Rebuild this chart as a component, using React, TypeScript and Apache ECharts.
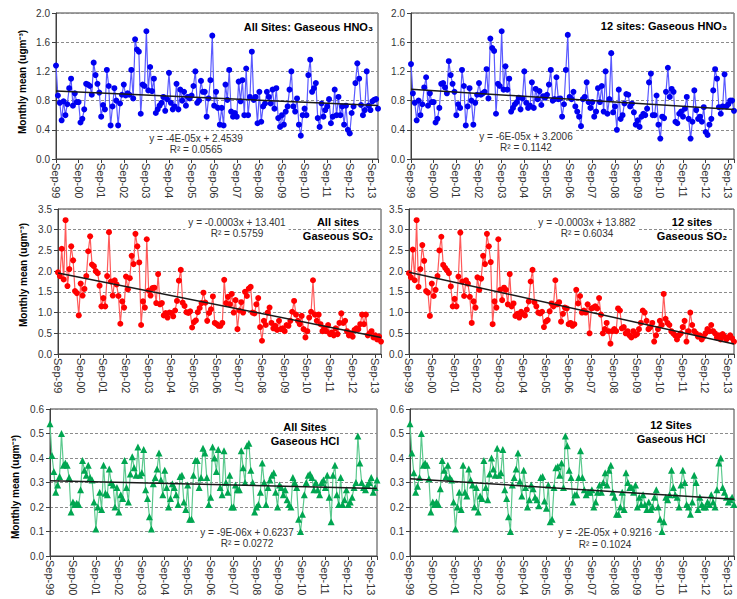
import React, { useEffect, useRef } from "react";
import * as echarts from "echarts";

// Year tick labels along every x axis (one tick per 12 months, starting Sep-99)
const yearTicks = [
  "Sep-99", "Sep-00", "Sep-01", "Sep-02", "Sep-03", "Sep-04", "Sep-05", "Sep-06",
  "Sep-07", "Sep-08", "Sep-09", "Sep-10", "Sep-11", "Sep-12", "Sep-13",
];

// Monthly means, Sep-99 .. Dec-13 (172 months)
const hno3All = [
  1.28, 0.87, 0.77, 0.53, 0.79, 0.60, 0.75, 0.97, 1.10, 0.73, 0.90, 0.78,
  0.78, 0.50, 0.55, 0.68, 1.03, 1.02, 1.00, 0.88, 1.32, 1.15, 1.03, 0.91,
  0.58, 0.74, 0.68, 1.22, 1.00, 0.46, 0.72, 0.97, 0.80, 0.46, 0.76, 0.88,
  1.02, 0.87, 0.90, 0.88, 1.22, 0.83, 1.64, 1.50, 1.47, 0.62, 1.02, 1.00,
  1.75, 0.94, 1.26, 0.93, 1.10, 0.63, 0.68, 0.73, 0.77, 0.85, 0.66, 0.82,
  1.18, 0.77, 0.68, 0.72, 1.03, 0.68, 0.95, 0.80, 0.92, 0.73, 0.85, 0.83,
  0.87, 1.00, 1.20, 0.77, 0.80, 1.07, 0.92, 0.92, 0.58, 0.83, 1.08, 1.69,
  0.73, 0.92, 0.70, 0.47, 0.70, 0.46, 1.02,
  0.81, 1.22, 0.65, 0.58, 0.63, 0.58, 1.06, 0.79, 1.08, 0.60,
  1.24, 0.60, 0.85, 1.47, 0.81, 0.85, 0.49, 0.92, 0.51, 0.72,
  0.76, 0.92, 0.85, 0.76, 0.95, 0.69, 0.97, 0.56, 0.44, 0.60,
  0.47, 0.65, 0.72, 0.95, 1.20, 0.72, 0.65, 0.83, 0.47, 0.32,
  0.60, 0.69, 0.60, 1.15, 1.36, 0.92, 0.97, 1.04, 0.56, 0.44,
  0.76, 0.58, 0.67, 0.72, 0.82, 0.49, 0.58, 0.95, 0.60, 0.85,
  0.60, 0.72, 0.47, 0.73, 0.40, 0.35, 0.63, 0.72, 1.04, 1.31,
  1.10, 0.74, 0.60, 0.67, 1.20, 0.73, 0.67, 0.79, 0.81, 0.82,
  0.69,
];

const hno3Twelve = [
  1.30, 0.90, 0.77, 0.53, 0.80, 0.60, 0.75, 0.98, 1.12, 0.73, 0.90, 0.78,
  0.78, 0.50, 0.55, 0.70, 1.03, 1.04, 0.98, 0.90, 1.34, 1.15, 1.03, 0.92,
  0.60, 0.75, 0.70, 1.22, 1.00, 0.46, 0.72, 0.97, 0.80, 0.47, 0.77, 0.88,
  1.04, 0.88, 0.90, 0.92, 1.23, 0.83, 1.65, 1.52, 1.48, 0.62, 1.03, 1.00,
  1.75, 0.95, 1.27, 0.95, 1.10, 0.65, 0.70, 0.75, 0.78, 0.84, 0.68, 0.83,
  1.20, 0.77, 0.70, 0.73, 1.05, 0.70, 0.96, 0.82, 0.93, 0.74, 0.86, 0.84,
  0.88, 1.02, 1.22, 0.80, 0.82, 1.12, 0.82, 0.83, 0.58, 0.75, 1.22, 1.70,
  0.85, 0.82, 0.92, 0.72, 0.65, 0.58, 0.45, 0.82, 0.85, 1.05, 0.78, 0.70,
  0.78, 0.58, 0.65, 0.97, 0.78, 1.00, 0.65, 1.20, 0.62, 0.82, 1.45, 0.64,
  0.72, 0.40, 0.95, 0.55, 0.60, 0.76, 0.89, 0.88, 0.72, 0.76, 0.64, 0.47,
  0.53, 0.44, 0.58, 0.62, 0.60, 0.69, 1.05, 1.17, 0.60, 0.60, 0.87, 0.47,
  0.28, 0.58, 0.56, 0.92, 1.25, 0.85, 0.96, 0.92, 0.51, 0.49, 0.62, 0.65,
  0.58, 0.69, 0.85, 0.55, 0.28, 0.51, 0.94, 0.67, 0.55, 0.58, 0.51, 0.71,
  0.37, 0.33, 0.47, 0.55, 0.94, 1.23, 1.10, 0.71, 0.62, 0.72, 1.16, 0.72,
  0.75, 0.80, 0.80, 0.66,
];

const so2All = [
  1.97, 1.88, 2.54, 1.80, 3.23, 1.64, 2.05, 2.60, 2.26, 1.52, 1.47, 0.93,
  1.70, 1.41, 1.57, 1.88, 2.48, 2.84, 2.16, 2.12, 2.00, 1.95, 1.65, 1.15,
  1.35, 1.15, 1.88, 2.94, 1.75, 1.41, 1.78, 1.68, 1.40, 0.73, 1.27, 1.12,
  1.87, 1.56, 1.83, 2.37, 2.17, 2.90, 2.60, 2.21, 0.70, 1.27, 1.12, 2.77,
  1.53, 1.41, 1.59, 1.60, 1.23, 1.93, 1.20, 1.23, 0.93, 0.99, 0.88, 1.00,
  0.99, 0.91, 1.05, 1.28, 1.77, 2.03, 1.24, 1.16, 1.01, 0.99, 1.03, 0.64,
  0.77, 0.81, 1.01, 1.11, 1.23, 1.48, 1.24, 0.80, 0.99, 1.08, 1.39, 0.75,
  0.72, 0.68, 0.68, 0.75, 1.79,
  1.23, 1.38, 1.20, 1.45, 1.00, 1.30, 0.60,
  1.05, 1.25, 1.00, 1.50, 1.40, 1.58, 1.62, 1.00, 0.98, 1.20, 1.35, 0.65,
  0.32, 0.80, 0.70, 1.00, 1.12, 0.75, 0.62, 0.68, 0.58, 0.80, 0.60, 0.62,
  0.55, 0.70, 0.68, 0.80, 1.02, 1.28, 0.95, 0.80, 0.72, 0.92, 0.60, 0.40,
  0.55, 0.88, 1.02, 1.78, 0.95, 0.80, 0.95, 0.72, 0.55, 0.62, 0.55, 0.70,
  0.48, 0.52, 0.45, 0.62, 0.48, 0.75, 0.98, 0.75, 0.80, 0.55, 0.45, 0.50,
  0.42, 0.58, 0.62, 0.60, 0.72, 0.95, 0.72, 0.95, 0.45, 0.50, 0.55, 0.40,
  0.45, 0.35, 0.42, 0.30,
];

const so2Twelve = [
  1.95, 1.85, 2.52, 1.78, 3.23, 1.62, 2.05, 2.63, 2.25, 1.52, 1.48, 0.92,
  1.70, 1.40, 1.55, 1.88, 2.50, 2.83, 2.15, 2.08, 2.02, 1.95, 1.63, 1.15,
  1.33, 1.15, 1.87, 2.93, 1.75, 1.40, 1.78, 1.70, 1.38, 0.75, 1.27, 1.12,
  1.85, 1.55, 1.82, 2.37, 2.17, 2.90, 2.60, 2.22, 0.72, 1.27, 1.12, 2.77,
  1.55, 1.30, 1.60, 1.55, 1.20, 1.93, 1.15, 1.22, 0.92, 0.97, 0.88, 1.02,
  0.97, 0.93, 1.07, 1.27, 1.75, 2.03, 1.25, 1.15, 1.00, 0.98, 1.02, 0.65,
  0.78, 0.82, 1.03, 1.22, 1.15, 1.78, 1.20, 1.25, 0.78, 0.97, 1.12, 1.10,
  0.72, 0.75, 0.68, 0.72, 1.55,
  1.22, 1.40, 1.00, 1.05, 1.00, 1.20, 0.50, 1.10, 1.12, 1.15, 1.10, 1.35,
  0.95, 0.50, 0.60, 0.75, 0.55, 0.25, 0.55, 0.60, 0.55, 1.10, 1.05, 0.62,
  0.65, 0.50, 0.55, 0.45, 0.40, 0.55, 0.45, 0.48, 0.60, 0.75, 1.05, 1.00,
  0.80, 0.60, 0.65, 0.75, 0.30, 0.45, 0.60, 0.80, 0.70, 1.45, 0.85, 0.75,
  0.70, 0.55, 0.50, 0.45, 0.35, 0.45, 0.50, 0.65, 0.80, 0.30, 0.55, 1.00,
  0.70, 0.55, 0.50, 0.42, 0.45, 0.35, 0.42, 0.50, 0.60, 0.55, 0.70, 0.55,
  0.50, 0.40, 0.45, 0.35, 0.48, 0.42, 0.35, 0.40, 0.45, 0.38, 0.30,
];

const hclAll = [
  0.54, 0.41, 0.345, 0.26, 0.29, 0.325, 0.50, 0.37, 0.38, 0.37, 0.32, 0.18,
  0.22, 0.21, 0.215, 0.21, 0.27, 0.39, 0.35, 0.33, 0.37, 0.32, 0.31, 0.22,
  0.11, 0.20, 0.26, 0.19, 0.37, 0.256, 0.25, 0.355, 0.30, 0.29, 0.20, 0.28,
  0.18, 0.25, 0.235, 0.39, 0.28, 0.22, 0.335, 0.405, 0.36, 0.33, 0.445, 0.33,
  0.34, 0.435, 0.27, 0.235, 0.16, 0.11, 0.295, 0.32, 0.355, 0.42, 0.31, 0.25,
  0.35, 0.28, 0.20, 0.235, 0.295, 0.28, 0.25, 0.21, 0.325, 0.33, 0.22, 0.19,
  0.29, 0.15, 0.15, 0.33, 0.39, 0.39, 0.28, 0.32, 0.44, 0.42, 0.32, 0.21,
  0.24, 0.445, 0.40, 0.345, 0.435, 0.28, 0.25, 0.43, 0.30, 0.26, 0.33, 0.20,
  0.20, 0.29, 0.27, 0.27, 0.43, 0.36, 0.30, 0.45, 0.46, 0.35, 0.30, 0.18,
  0.20, 0.21, 0.26, 0.38, 0.30, 0.21, 0.28, 0.31, 0.33, 0.34, 0.26, 0.20,
  0.29, 0.28, 0.25, 0.27, 0.23, 0.21, 0.20, 0.32, 0.30, 0.28, 0.15, 0.10,
  0.17, 0.25, 0.30, 0.33, 0.335, 0.32, 0.27, 0.30, 0.27, 0.25, 0.30, 0.31,
  0.28, 0.33, 0.24, 0.14, 0.33, 0.37, 0.25, 0.21, 0.32, 0.21, 0.23, 0.27,
  0.21, 0.22, 0.24, 0.28, 0.30, 0.49, 0.38, 0.30, 0.28, 0.27, 0.29, 0.30,
  0.32, 0.26, 0.28, 0.31,
];

const hclTwelve = [
  0.54, 0.42, 0.34, 0.26, 0.285, 0.32, 0.50, 0.37, 0.38, 0.37, 0.315, 0.18,
  0.22, 0.21, 0.22, 0.21, 0.275, 0.39, 0.35, 0.325, 0.37, 0.32, 0.31, 0.22,
  0.11, 0.20, 0.26, 0.19, 0.37, 0.26, 0.245, 0.355, 0.31, 0.29, 0.20, 0.28,
  0.18, 0.245, 0.235, 0.39, 0.28, 0.23, 0.335, 0.40, 0.355, 0.33, 0.44, 0.33,
  0.34, 0.435, 0.27, 0.235, 0.16, 0.10, 0.29, 0.32, 0.355, 0.42, 0.305, 0.245,
  0.35, 0.28, 0.20, 0.23, 0.29, 0.275, 0.24, 0.23, 0.205, 0.32, 0.325, 0.225,
  0.195, 0.29, 0.14, 0.15, 0.28, 0.36, 0.365,
  0.33, 0.38, 0.28, 0.49, 0.45, 0.35, 0.32, 0.22, 0.25, 0.25, 0.32, 0.43,
  0.32, 0.27, 0.25, 0.26, 0.26, 0.27, 0.20, 0.22, 0.26, 0.29, 0.26, 0.30,
  0.34, 0.29, 0.35, 0.37, 0.26, 0.24, 0.17, 0.17, 0.20, 0.26, 0.19, 0.34,
  0.30, 0.28, 0.28, 0.26, 0.29, 0.20, 0.24, 0.21, 0.25, 0.21, 0.19, 0.22,
  0.19, 0.20, 0.24, 0.27, 0.20, 0.15, 0.10, 0.14, 0.24, 0.23, 0.25, 0.35,
  0.28, 0.25, 0.24, 0.20, 0.29, 0.35, 0.30, 0.21, 0.20, 0.17, 0.22, 0.33,
  0.30, 0.19, 0.24, 0.21, 0.20, 0.20, 0.22, 0.21, 0.25, 0.22, 0.20, 0.27,
  0.38, 0.40, 0.28, 0.26, 0.24, 0.22, 0.23, 0.24, 0.21,
];

// Panel captions and trend-line equations
const panelTitles = [
  "All Sites: Gaseous HNO\u2083",
  "12 sites: Gaseous HNO\u2083",
  "All sites\nGaseous SO\u2082",
  "12 sites\nGaseous SO\u2082",
  "All Sites\nGaseous HCl",
  "12 Sites\nGaseous HCl",
];
const trendLabels = [
  "y = -4E-05x + 2.4539\nR\u00b2 = 0.0565",
  "y = -6E-05x + 3.2006\nR\u00b2 = 0.1142",
  "y = -0.0003x + 13.401\nR\u00b2 = 0.5759",
  "y = -0.0003x + 13.882\nR\u00b2 = 0.6034",
  "y = -9E-06x + 0.6237\nR\u00b2 = 0.0272",
  "y = -2E-05x + 0.9216\nR\u00b2 = 0.1024",
];
const yAxisTitle = "Monthly mean (ugm\u207b\u00b3)";

const FONT = '"Liberation Sans", Arial, Helvetica, sans-serif';
const AXIS_DARK = "#404040";

const looks: Record<string, { line: string; mark: string; symbol: string; size: number }> = {
  hno3: { line: "#5a5aff", mark: "#0000f0", symbol: "circle", size: 6 },
  so2: { line: "#ff5a5a", mark: "#ff0000", symbol: "circle", size: 6 },
  hcl: { line: "#5cc98e", mark: "#00a651", symbol: "triangle", size: 7 },
};

// Least-squares straight line through the monthly values
function trend(values: number[]) {
  const n = values.length;
  let sx = 0, sy = 0, sxx = 0, sxy = 0;
  values.forEach((v, i) => {
    sx += i; sy += v; sxx += i * i; sxy += i * v;
  });
  const slope = (n * sxy - sx * sy) / (n * sxx - sx * sx);
  const icpt = (sy - slope * sx) / n;
  return [[0, icpt], [n - 1, icpt + slope * (n - 1)]];
}

function buildOption() {
  const panels = [
    { values: hno3All, kind: "hno3", max: 2, step: 0.4, grid: { left: 56, top: 13, width: 322, height: 146 } },
    { values: hno3Twelve, kind: "hno3", max: 2, step: 0.4, grid: { left: 411, top: 13, width: 323, height: 146 } },
    { values: so2All, kind: "so2", max: 3.5, step: 0.5, grid: { left: 58, top: 209, width: 323, height: 145 } },
    { values: so2Twelve, kind: "so2", max: 3.5, step: 0.5, grid: { left: 409, top: 209, width: 325, height: 145 } },
    { values: hclAll, kind: "hcl", max: 0.6, step: 0.1, grid: { left: 50, top: 409, width: 327, height: 147 } },
    { values: hclTwelve, kind: "hcl", max: 0.6, step: 0.1, grid: { left: 410, top: 409, width: 324, height: 147 } },
  ];

  const grid: any[] = [];
  const xAxis: any[] = [];
  const yAxis: any[] = [];
  const series: any[] = [];

  panels.forEach((p, i) => {
    grid.push({ ...p.grid, show: true, borderColor: AXIS_DARK, borderWidth: 1, containLabel: false });
    xAxis.push({
      gridIndex: i,
      type: "value",
      min: 0,
      max: p.values.length - 1,
      interval: 12,
      axisLine: { show: true, onZero: false, lineStyle: { color: AXIS_DARK, width: 1 } },
      axisTick: { show: true, length: 4, lineStyle: { color: AXIS_DARK } },
      axisLabel: {
        rotate: -90,
        margin: 4,
        fontSize: 11,
        fontFamily: FONT,
        color: "#333",
        formatter: (v: number) => (v % 12 === 0 ? yearTicks[v / 12] ?? "" : ""),
      },
      splitLine: { show: false },
    });
    yAxis.push({
      gridIndex: i,
      type: "value",
      min: 0,
      max: p.max,
      interval: p.step,
      axisLine: { show: true, lineStyle: { color: AXIS_DARK, width: 1 } },
      axisTick: { show: true, length: 4, lineStyle: { color: AXIS_DARK } },
      axisLabel: {
        margin: 6,
        fontSize: 10,
        fontFamily: FONT,
        color: "#333",
        formatter: (v: number) => v.toFixed(1),
      },
      splitLine: { show: true, lineStyle: { color: "#8c8c8c", width: 1, type: [3, 2] } },
    });
    const look = looks[p.kind];
    series.push({
      type: "line",
      xAxisIndex: i,
      yAxisIndex: i,
      data: p.values.map((v, k) => [k, v]),
      symbol: look.symbol,
      symbolSize: look.size,
      showAllSymbol: true,
      lineStyle: { color: look.line, width: 1.2 },
      itemStyle: { color: look.mark, borderWidth: 0 },
      z: 3,
      silent: true,
    });
    series.push({
      type: "line",
      xAxisIndex: i,
      yAxisIndex: i,
      data: trend(p.values),
      symbol: "none",
      lineStyle: { color: "#1a1a1a", width: 1.5 },
      z: 5,
      silent: true,
    });
  });

  const titleText = (x: number, y: number, text: string, align: string) => ({
    type: "text",
    x,
    y,
    z: 50,
    silent: true,
    style: {
      text,
      fill: "#000",
      fontSize: 11,
      fontWeight: "bold",
      fontFamily: FONT,
      align,
      verticalAlign: "middle",
      lineHeight: 14,
    },
  });
  const eqText = (x: number, y: number, text: string) => ({
    type: "text",
    x,
    y,
    z: 40,
    silent: true,
    style: {
      text,
      fill: "#333",
      fontSize: 10,
      fontFamily: FONT,
      align: "center",
      verticalAlign: "middle",
      lineHeight: 11.5,
      backgroundColor: "#fff",
      padding: [1, 3],
    },
  });
  const axisTitle = (x: number, y: number) => ({
    type: "text",
    x,
    y,
    rotation: Math.PI / 2,
    silent: true,
    style: {
      text: yAxisTitle,
      fill: "#000",
      fontSize: 10,
      fontWeight: "bold",
      fontFamily: FONT,
      align: "center",
      verticalAlign: "middle",
    },
  });

  const graphic = [
    titleText(373, 27, panelTitles[0], "right"),
    titleText(727, 26, panelTitles[1], "right"),
    titleText(338, 229, panelTitles[2], "center"),
    titleText(692, 228.5, panelTitles[3], "center"),
    titleText(305, 433.5, panelTitles[4], "center"),
    titleText(671, 432, panelTitles[5], "center"),
    eqText(196, 144, trendLabels[0]),
    eqText(526, 142, trendLabels[1]),
    eqText(237, 228, trendLabels[2]),
    eqText(587, 228, trendLabels[3]),
    eqText(247, 538, trendLabels[4]),
    eqText(605, 538.5, trendLabels[5]),
    axisTitle(22, 82),
    axisTitle(23, 275),
    axisTitle(15, 487),
  ];

  return {
    animation: false,
    backgroundColor: "#fff",
    grid,
    xAxis,
    yAxis,
    series,
    graphic,
  };
}

export default function App() {
  const ref = useRef<HTMLDivElement>(null);
  useEffect(() => {
    if (!ref.current) return;
    const chart = echarts.init(ref.current, undefined, { renderer: "svg" });
    chart.setOption(buildOption() as any);
    return () => chart.dispose();
  }, []);
  return (
    <div
      ref={ref}
      style={{ position: "absolute", left: 0, top: 0, width: 737, height: 599 }}
    />
  );
}
